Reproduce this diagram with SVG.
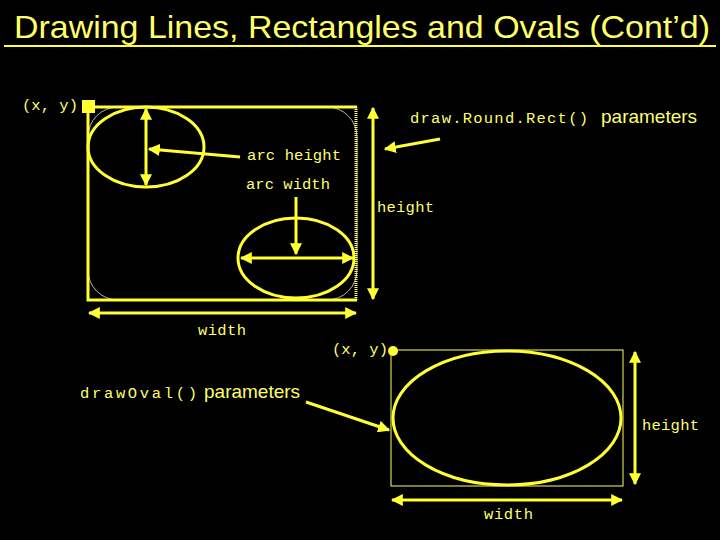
<svg xmlns="http://www.w3.org/2000/svg" width="720" height="540" viewBox="0 0 720 540">
<defs>
<marker id="ah" viewBox="0 0 10 10" refX="9" refY="5" markerWidth="4" markerHeight="4" orient="auto-start-reverse" markerUnits="strokeWidth"><path d="M0,0 L10,5 L0,10 z" fill="#ffff33"/></marker>
<style>
.m{font-family:"Liberation Mono","Courier New",monospace;font-size:15.5px;fill:#ffff66}
.s{font-family:"Liberation Sans",Arial,sans-serif;fill:#ffff66}
.th{stroke:#ffff33;stroke-width:3;fill:none}
.tn{stroke:#ffff66;stroke-width:1;fill:none}
.ar{stroke:#ffff33;stroke-width:3;fill:none;marker-end:url(#ah);marker-start:url(#ah)}
.a1{stroke:#ffff33;stroke-width:3;fill:none;marker-end:url(#ah)}
</style>
</defs>
<rect width="720" height="540" fill="#000"/>
<g id="title">
<text x="14" y="38" class="s" font-size="32" textLength="696" lengthAdjust="spacingAndGlyphs">Drawing Lines, Rectangles and Ovals (Cont’d)</text>
<line x1="4" y1="46" x2="716" y2="46" stroke="#ffff33" stroke-width="2"/>
</g>
<g id="roundrect">
<rect x="88" y="107" width="269" height="193" rx="30" ry="30" stroke="#ffffff" stroke-width="0.7" fill="none"/>
<path d="M357,107 H88 V300 H357" class="th"/>
<line x1="356" y1="107" x2="356" y2="300" stroke="#ffff66" stroke-width="3" stroke-dasharray="1,1"/>
<rect x="82" y="100" width="13" height="13" fill="#ffff33"/>
<ellipse cx="146" cy="147" rx="58" ry="40" class="th"/>
<ellipse cx="296" cy="258" rx="58" ry="40" class="th"/>
</g>
<g id="oval">
<rect x="391" y="350" width="232" height="136" class="tn"/>
<ellipse cx="507" cy="418" rx="114" ry="67" class="th"/>
<circle cx="393" cy="351" r="5" fill="#ffff33"/>
</g>
<g id="connectors">
<line x1="146" y1="109" x2="146" y2="185" class="ar" stroke-width="2"/>
<line x1="240" y1="157" x2="149" y2="149" class="a1"/>
<line x1="296" y1="197" x2="296" y2="254" class="a1" stroke-width="2"/>
<line x1="241" y1="258" x2="353" y2="258" class="ar" stroke-width="2"/>
<line x1="373" y1="108" x2="373" y2="299" class="ar" stroke-width="2"/>
<line x1="89" y1="313" x2="356" y2="313" class="ar" stroke-width="2"/>
<line x1="440" y1="139" x2="385" y2="149" class="a1"/>
<line x1="306" y1="402" x2="389" y2="430" class="a1"/>
<line x1="635" y1="352" x2="635" y2="484" class="ar" stroke-width="2"/>
<line x1="392" y1="500" x2="622" y2="500" class="ar" stroke-width="2"/>
</g>
<g id="labels">
<text x="22" y="110" class="m" textLength="56">(x, y)</text>
<text x="410" y="123" class="m" font-size="17.5" textLength="178">draw.Round.Rect()</text>
<text x="601" y="123" class="s" font-size="19">parameters</text>
<text x="247" y="160" class="m" textLength="94">arc height</text>
<text x="246" y="189" class="m" textLength="84">arc width</text>
<text x="377" y="212" class="m" textLength="57">height</text>
<text x="198" y="335" class="m" textLength="48">width</text>
<text x="332" y="354" class="m" textLength="56">(x, y)</text>
<text x="80" y="398" class="m" font-size="17.5" textLength="117">drawOval()</text>
<text x="204" y="398" class="s" font-size="19">parameters</text>
<text x="642" y="430" class="m" textLength="57">height</text>
<text x="484" y="519" class="m" textLength="49">width</text>
</g>
</svg>
